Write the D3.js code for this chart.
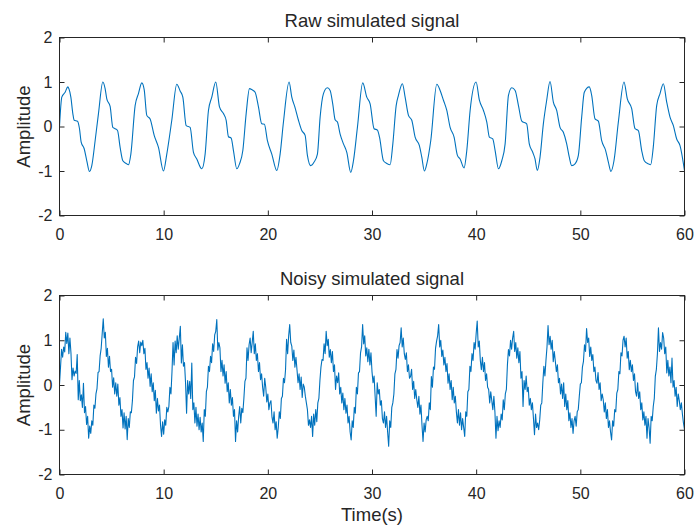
<!DOCTYPE html>
<html>
<head>
<meta charset="utf-8">
<script src="https://cdn.jsdelivr.net/npm/d3@7"></script>
<style>
  html, body { margin: 0; padding: 0; background: #ffffff; }
  svg { display: block; }
  text { font-family: "Liberation Sans", Arial, Helvetica, sans-serif; fill: #262626; }
</style>
</head>
<body>
<svg id="chart" width="695" height="525"></svg>
<script>
// ---------------- DATA ----------------
const titles = ["Raw simulated signal", "Noisy simulated signal"];
const xLabel = "Time(s)";
const yLabel = "Amplitude";
const xTicks = [0, 10, 20, 30, 40, 50, 60];
const yTicks = [-2, -1, 0, 1, 2];
const xDomain = [0, 60];
const yDomain = [-2, 2];

// Raw signal: key points (time, amplitude)
const rawTime = [
  0.00, 0.22, 0.54, 0.80, 0.90, 1.09, 1.28, 1.41, 1.73, 1.92, 2.08, 2.37, 2.62, 2.88, 3.10, 3.42, 3.74,
  4.16, 4.38, 4.54, 4.86, 5.12, 5.34, 5.57, 5.82, 6.08, 6.40, 6.62, 6.85, 7.26, 7.58,
  7.90, 8.13, 8.38, 8.70, 9.09, 9.50, 9.98, 10.30, 10.78,
  11.26, 11.58, 11.84, 12.16, 12.54, 12.86, 13.18, 13.66, 13.98, 14.30, 14.62,
  15.00, 15.36, 15.74, 16.00, 16.22, 16.48, 16.70, 17.02, 17.28, 17.60, 17.92,
  18.24, 18.46, 18.78, 19.10, 19.42, 19.67, 19.96, 20.38, 20.86, 21.18, 21.50,
  22.04, 22.30, 22.62, 22.94, 23.26, 23.58, 23.80, 24.12, 24.44, 24.76, 25.02, 25.34,
  25.72, 25.98, 26.23, 26.46, 26.68, 26.94, 27.26, 27.58, 27.96, 28.22, 28.60,
  29.11, 29.50, 29.82, 30.20, 30.52, 30.72, 31.10, 31.42, 31.74, 32.00, 32.32, 32.54,
  32.92, 33.18, 33.50, 33.82, 34.14, 34.55, 34.78, 35.03, 35.26, 35.64,
  36.22, 36.54, 36.86, 37.18, 37.50, 37.88, 38.20, 38.46, 38.84, 39.10, 39.42,
  39.99, 40.31, 40.70, 41.02, 41.27, 41.59, 41.82, 42.14, 42.46, 42.78, 43.10,
  43.42, 43.74, 44.06, 44.38, 44.85, 45.10, 45.43, 45.65, 45.87, 46.13, 46.45, 46.77,
  47.09, 47.41, 47.73, 48.05, 48.37, 48.69, 48.94, 49.17, 49.49, 49.81, 50.13, 50.38,
  50.86, 51.09, 51.41, 51.73, 52.05, 52.43, 52.69, 52.94, 53.23, 53.65,
  54.19, 54.51, 54.93, 55.25, 55.57, 55.89, 56.14, 56.53, 56.75, 57.00, 57.33, 57.65,
  57.97, 58.29, 58.61, 58.93, 59.25, 59.57, 60.00
];
const rawAmp = [
  0.00, 0.66, 0.77, 0.89, 0.85, 0.66, 0.29, 0.14, 0.12, -0.05, -0.35, -0.50, -0.77, -1.01, -0.88, -0.32, 0.29,
  1.00, 0.85, 0.62, 0.45, -0.02, -0.05, -0.09, -0.47, -0.77, -0.83, -0.86, -0.62, 0.47, 0.74,
  0.98, 0.83, 0.25, 0.17, -0.20, -0.47, -1.00, -0.62, 0.14,
  0.95, 0.80, 0.66, 0.02, -0.02, -0.58, -0.73, -0.95, -0.62, 0.36, 0.66,
  1.00, 0.44, 0.29, 0.14, -0.23, -0.26, -0.54, -0.95, -0.84, -0.54, 0.29,
  0.85, 0.83, 0.77, 0.44, 0.06, 0.05, -0.32, -0.62, -0.99, -0.62, 0.10,
  1.00, 0.66, 0.42, 0.14, -0.09, -0.20, -0.65, -0.88, -0.80, -0.62, 0.21, 0.74,
  0.87, 0.81, 0.51, 0.15, 0.10, -0.17, -0.39, -0.58, -1.03, -0.77, -0.02,
  0.98, 0.66, 0.51, -0.05, -0.08, -0.24, -0.77, -0.83, -0.86, -0.39, 0.47, 0.70,
  0.96, 0.66, 0.25, 0.14, -0.24, -0.43, -0.69, -1.00, -0.84, -0.32,
  0.95, 0.81, 0.59, 0.36, -0.02, -0.24, -0.65, -0.73, -0.93, -0.54, 0.36,
  1.00, 0.59, 0.36, 0.10, -0.24, -0.28, -0.54, -0.95, -0.77, -0.39, 0.70,
  0.87, 0.81, 0.47, 0.12, 0.06, -0.39, -0.58, -0.73, -0.99, -0.69, 0.06, 0.59,
  1.01, 0.55, 0.36, -0.02, -0.13, -0.39, -0.69, -0.88, -0.84, -0.65, 0.21, 0.77,
  0.89, 0.70, 0.17, 0.12, -0.32, -0.54, -0.80, -1.01, -0.77, 0.10,
  1.00, 0.62, 0.40, -0.05, -0.09, -0.54, -0.77, -0.84, -0.86, -0.47, 0.47, 0.74,
  0.96, 0.55, 0.21, 0.02, -0.28, -0.43, -0.99
];

// Noisy signal: sampled every 0.1 s from t = 0 to t = 60 (one row per second)
const noisyStart = 0;
const noisyStep = 0.1;
const noisyAmp = [
  0.02, 0.41, 0.80, 0.62, 0.85, 0.74, 1.18, 0.93, 1.16, 0.70,
  1.05, 0.72, 0.12, 0.38, 0.20, 0.31, 0.26, 0.68, -0.33, 0.10,
  -0.35, -0.22, -0.50, 0.04, -0.62, -0.48, -0.88, -0.70, -1.19, -0.92,
  -1.08, -0.80, -0.90, -0.45, -0.52, -0.20, -0.08, 0.28, 0.30, 0.65,
  0.82, 1.15, 1.48, 1.05, 1.18, 0.64, 0.82, 0.40, 0.64, 0.30,
  0.35, -0.05, 0.16, -0.20, 0.05, -0.25, 0.02, -0.45, -0.28, -0.70,
  -0.55, -0.96, -0.62, -0.98, -0.70, -1.22, -0.75, -0.95, -0.60, -0.62,
  -0.35, 0.10, 0.18, 0.62, 0.48, 0.85, 0.98, 0.72, 0.96, 0.88,
  1.00, 0.70, 0.82, 0.35, 0.50, 0.15, 0.38, -0.03, 0.25, -0.15,
  0.05, -0.35, -0.12, -0.63, -0.30, -0.58, -0.45, -0.90, -1.15, -0.82,
  -1.10, -0.78, -0.90, -0.50, -0.60, -0.48, -0.05, -0.20, 0.30, 0.95,
  0.45, 0.98, 0.72, 1.10, 0.80, 1.05, 1.31, 0.49, 0.90, 0.42,
  0.50, 0.05, -0.63, 0.10, -0.20, 0.08, -0.30, 0.49, -0.55, -0.40,
  -0.85, -0.50, -0.92, -0.65, -1.00, -0.72, -1.05, -0.85, -1.26, -0.55,
  -0.70, -0.15, -0.05, 0.42, 0.30, 0.64, 0.50, 0.92, 0.75, 1.12,
  1.20, 1.46, 0.78, 0.95, 0.83, 0.30, 0.55, 0.20, 0.45, 0.04,
  0.30, -0.15, 0.05, -0.40, -0.10, -0.45, -0.28, -0.70, -0.55, -1.26,
  -0.80, -1.05, -0.70, -0.48, -0.85, -0.52, -0.62, -0.30, 0.08, 0.15,
  0.83, 0.55, 0.90, 1.05, 0.72, 0.95, 1.20, 0.70, 0.92, 0.55,
  0.70, 0.30, 0.50, 0.12, 0.25, -0.05, -0.25, 0.15, -0.05, -0.38,
  -0.20, -0.55, -0.40, -0.35, -0.72, -0.85, -0.60, -1.00, -0.82, -1.19,
  -0.95, -0.60, -0.75, -0.30, -0.25, 0.15, 0.05, 0.34, 1.02, 0.70,
  1.10, 1.35, 0.95, 0.87, 0.55, 0.78, 0.40, 0.62, 0.34, 0.05,
  0.25, -0.10, 0.18, -0.28, 0.02, -0.05, -0.25, -0.40, -0.55, -0.90,
  -0.78, -0.95, -0.70, -1.15, -0.65, -0.90, -0.55, -0.82, -0.40, -0.30,
  0.10, 0.40, 0.57, 0.55, 0.92, 0.70, 1.20, 0.88, 1.02, 0.62,
  0.79, 0.50, 0.75, 0.30, 0.45, -0.10, 0.20, 0.05, 0.27, -0.20,
  -0.05, -0.40, -0.18, -0.55, -0.30, -0.63, -0.45, -0.85, -0.70, -1.05,
  -1.23, -0.80, -0.95, -0.50, -0.63, -0.05, -0.20, 0.27, 0.30, 0.72,
  0.85, 1.35, 0.92, 1.10, 0.65, 0.83, 0.52, 0.80, 0.45, 0.72,
  0.30, 0.05, 0.20, -0.25, -0.70, 0.05, -0.20, -0.10, -0.45, -0.35,
  -0.75, -0.85, -0.60, -0.95, -0.70, -1.05, -1.37, -0.80, -0.95, -0.50,
  -0.40, -0.20, 0.25, 0.35, 0.79, 0.60, 0.88, 0.95, 1.28, 0.85,
  1.05, 0.70, 0.57, 0.72, 0.30, 0.45, 0.15, 0.19, 0.35, -0.10,
  0.08, -0.30, -0.10, -0.33, -0.50, -0.25, -0.65, -0.45, -0.90, -1.26,
  -0.85, -1.05, -0.78, -0.70, -0.80, -0.40, -0.55, 0.19, -0.05, 0.40,
  0.35, 0.82, 0.98, 1.10, 1.35, 0.85, 1.00, 0.64, 0.78, 0.45,
  0.62, 0.30, 0.48, 0.04, 0.25, -0.10, 0.10, -0.33, -0.05, -0.40,
  -0.25, -0.60, -0.85, -0.55, -0.90, -0.62, -1.00, -0.75, -0.95, -1.15,
  -0.60, -0.70, -0.15, -0.10, 0.42, 0.30, 0.70, 0.55, 0.95, 0.80,
  1.15, 1.43, 0.85, 0.98, 0.55, 0.34, 0.62, 0.30, 0.50, 0.10,
  0.25, -0.05, -0.10, -0.40, -0.15, -0.35, -0.55, -0.25, -0.60, -1.19,
  -0.70, -1.02, -0.80, -0.95, -0.65, -0.78, -0.33, -0.55, -0.20, -0.10,
  0.45, 0.79, 0.65, 1.00, 0.80, 1.05, 1.20, 0.75, 0.95, 0.60,
  0.83, 0.50, 0.75, 0.15, 0.30, -0.48, 0.10, -0.10, 0.20, -0.15,
  -0.05, -0.45, -0.30, -0.55, -0.40, -0.75, -1.11, -0.65, -0.95, -0.85,
  -1.00, -0.78, -0.45, -0.40, 0.05, 0.42, 0.20, 0.55, 0.85, 1.33,
  0.90, 1.09, 0.80, 1.00, 0.52, 0.75, 0.53, 0.30, 0.45, 0.05,
  0.15, -0.20, 0.02, -0.30, 0.05, -0.48, -0.20, -0.55, -0.35, -0.80,
  -0.62, -0.95, -0.75, -1.08, -0.80, -0.70, -0.92, -0.60, -0.55, -0.25,
  0.02, 0.05, 0.40, 0.53, 0.90, 0.75, 1.26, 0.95, 1.05, 0.64,
  0.85, 0.55, 0.68, 0.30, 0.40, 0.10, 0.04, 0.28, -0.10, 0.05,
  -0.35, -0.20, -0.33, -0.60, -0.40, -0.75, -0.55, -0.95, -0.80, -1.05,
  -1.23, -0.80, -0.92, -0.55, -0.60, -0.18, -0.10, 0.30, 0.25, 0.72,
  0.65, 1.00, 1.09, 0.85, 1.05, 0.60, 0.75, 0.34, 0.55, 0.30,
  0.45, 0.10, 0.25, -0.15, -0.25, 0.05, -0.30, -0.15, -0.55, -0.40,
  -0.78, -0.60, -0.90, -0.70, -1.19, -0.75, -0.95, -1.30, -0.70, -0.80,
  -0.48, -0.30, 0.20, 0.35, 0.70, 1.28, 0.75, 0.95, 0.80, 1.17,
  1.05, 0.70, 0.85, 0.27, 0.55, 0.20, 0.40, 0.05, 0.60, -0.05,
  0.10, -0.25, -0.05, -0.48, -0.20, -0.35, -0.55, -0.40, -0.65, -0.85,
  -1.00
];

// ---------------- DRAWING ----------------
const svg = d3.select("#chart");
svg.append("rect").attr("width", 695).attr("height", 525).attr("fill", "#ffffff");

const axisColor = "#262626";
const lineColor = "#0072BD";
const left = 59.5, right = 684.5;
const panels = [
  { top: 37.5, bottom: 215.5, title: titles[0], xlab: null,
    data: rawTime.map((t, i) => ({ t, v: rawAmp[i] })), curve: d3.curveMonotoneX },
  { top: 295.5, bottom: 474.5, title: titles[1], xlab: xLabel,
    data: noisyAmp.map((v, i) => ({ t: noisyStart + i * noisyStep, v })), curve: d3.curveLinear }
];

const x = d3.scaleLinear().domain(xDomain).range([left, right]);
const fmt = d => String(d);

panels.forEach(p => {
  const y = d3.scaleLinear().domain(yDomain).range([p.bottom, p.top]);
  const g = svg.append("g");

  // data line (clipped to axes)
  const clipId = "clip" + Math.round(p.top);
  svg.append("clipPath").attr("id", clipId)
    .append("rect").attr("x", left).attr("y", p.top).attr("width", right - left).attr("height", p.bottom - p.top);

  const line = d3.line().x(d => x(d.t)).y(d => y(d.v)).curve(p.curve);
  g.append("path").datum(p.data)
    .attr("d", line)
    .attr("fill", "none")
    .attr("stroke", lineColor)
    .attr("stroke-width", 1.1)
    .attr("stroke-linejoin", "round")
    .attr("clip-path", `url(#${clipId})`);

  // axes with inward ticks
  const bottomAxis = d3.axisBottom(x).tickValues(xTicks).tickFormat(fmt).tickSize(-5).tickPadding(13);
  const topAxis = d3.axisTop(x).tickValues(xTicks).tickFormat("").tickSize(-5);
  const leftAxis = d3.axisLeft(y).tickValues(yTicks).tickFormat(fmt).tickSize(-5).tickPadding(7);
  const rightAxis = d3.axisRight(y).tickValues(yTicks).tickFormat("").tickSize(-5);

  const ab = g.append("g").attr("transform", `translate(0,${p.bottom})`).call(bottomAxis);
  const at = g.append("g").attr("transform", `translate(0,${p.top})`).call(topAxis);
  const al = g.append("g").attr("transform", `translate(${left},0)`).call(leftAxis);
  const ar = g.append("g").attr("transform", `translate(${right},0)`).call(rightAxis);

  [ab, at, al, ar].forEach(a => {
    a.select(".domain").remove();
    a.selectAll(".tick line").attr("stroke", axisColor).attr("stroke-width", 1);
    a.selectAll(".tick text")
      .attr("fill", axisColor)
      .style("font-family", '"Liberation Sans", Arial, sans-serif')
      .style("font-size", "16px");
  });

  // box
  g.append("rect")
    .attr("x", left).attr("y", p.top)
    .attr("width", right - left).attr("height", p.bottom - p.top)
    .attr("fill", "none").attr("stroke", axisColor).attr("stroke-width", 1);

  // title
  g.append("text")
    .attr("x", (left + right) / 2).attr("y", p.top - 10.5)
    .attr("text-anchor", "middle")
    .style("font-size", "18.5px")
    .text(p.title);

  // y label
  g.append("text")
    .attr("transform", `translate(30,${(p.top + p.bottom) / 2}) rotate(-90)`)
    .attr("text-anchor", "middle")
    .style("font-size", "18.5px")
    .text(yLabel);

  if (p.xlab) {
    g.append("text")
      .attr("x", (left + right) / 2).attr("y", p.bottom + 46)
      .attr("text-anchor", "middle")
      .style("font-size", "18.5px")
      .text(p.xlab);
  }
});
</script>
</body>
</html>
